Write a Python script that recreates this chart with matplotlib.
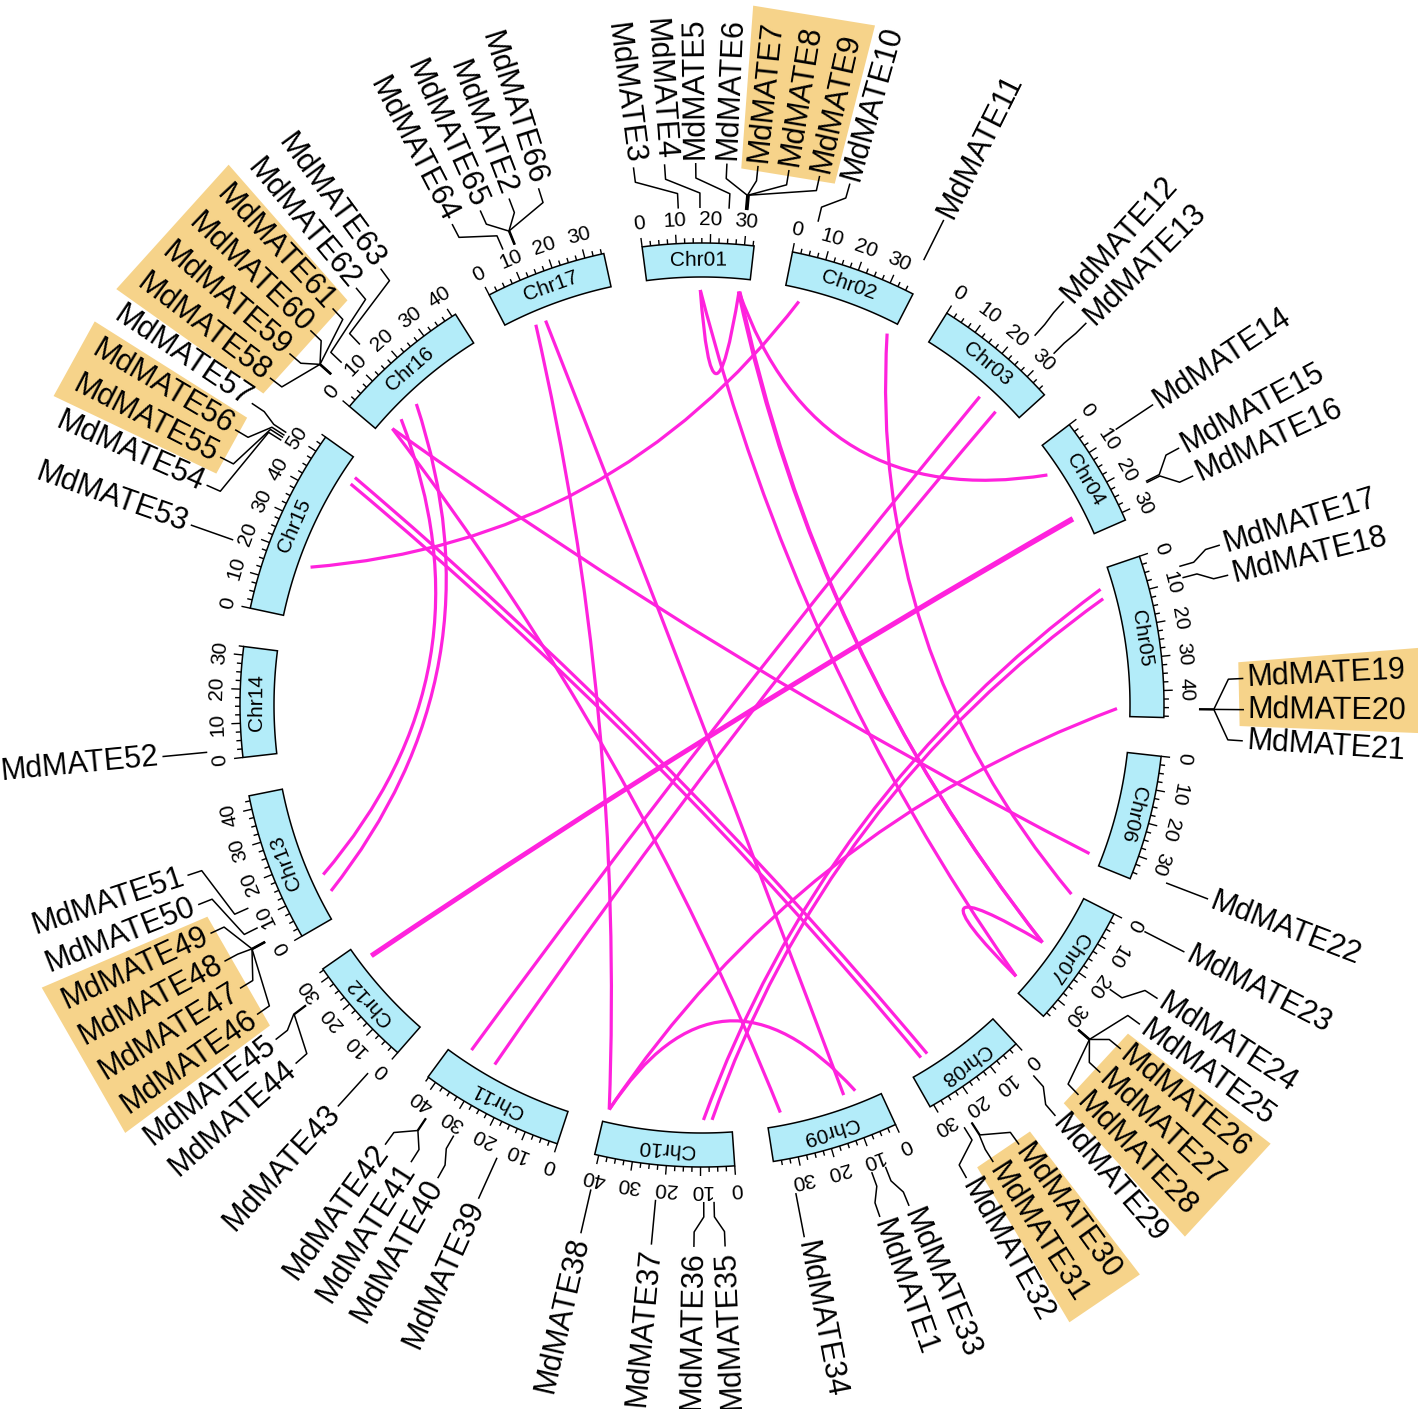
import numpy as np
import matplotlib
matplotlib.use("Agg")
import matplotlib.pyplot as plt
from matplotlib.path import Path
from matplotlib.patches import PathPatch, Polygon
from matplotlib.collections import LineCollection
from matplotlib.textpath import TextPath
from matplotlib.font_manager import FontProperties

plt.rcParams['font.family'] = ['Liberation Sans', 'DejaVu Sans']

# ---------------- data ----------------
chroms = ['Chr01', 'Chr02', 'Chr03', 'Chr04', 'Chr05', 'Chr06', 'Chr07', 'Chr08', 'Chr09',
          'Chr10', 'Chr11', 'Chr12', 'Chr13', 'Chr14', 'Chr15', 'Chr16', 'Chr17']
chrom_len = [32.8, 37.4, 37.3, 32.4, 47.9, 37.0, 36.4, 31.2, 37.4,
             41.2, 42.7, 32.9, 44.0, 32.5, 55.0, 41.2, 35.7]   # Mb

gene_names = ['MdMATE%d' % i for i in range(1, 67)]
gene_chrom = ['Chr09', 'Chr17', 'Chr01', 'Chr01', 'Chr01', 'Chr01', 'Chr01', 'Chr01', 'Chr01', 'Chr02',
              'Chr02', 'Chr03', 'Chr03', 'Chr04', 'Chr04', 'Chr04', 'Chr05', 'Chr05', 'Chr05', 'Chr05',
              'Chr05', 'Chr06', 'Chr07', 'Chr07', 'Chr07', 'Chr07', 'Chr07', 'Chr07', 'Chr08', 'Chr08',
              'Chr08', 'Chr08', 'Chr09', 'Chr09', 'Chr10', 'Chr10', 'Chr10', 'Chr10', 'Chr11', 'Chr11',
              'Chr11', 'Chr11', 'Chr12', 'Chr12', 'Chr12', 'Chr13', 'Chr13', 'Chr13', 'Chr13', 'Chr13',
              'Chr13', 'Chr14', 'Chr15', 'Chr15', 'Chr15', 'Chr15', 'Chr15', 'Chr16', 'Chr16', 'Chr16',
              'Chr16', 'Chr16', 'Chr16', 'Chr17', 'Chr17', 'Chr17']
gene_pos = [11.3, 12.45, 11.1, 17.0, 24.9, 29.4, 29.6, 29.8, 30.0, 5.2,
            35.8, 23.6, 30.7, 8.7, 25.0, 25.4, 6.1, 9.3, 45.3, 45.4,
            45.5, 34.4, 0.5, 18.8, 32.6, 32.7, 32.8, 32.9, 2.4, 23.4,
            23.6, 25.9, 7.3, 32.7, 6.3, 9.1, 22.2, 40.0, 14.4, 27.6,
            36.4, 36.6, 2.4, 27.3, 27.5, 3.5, 3.6, 3.7, 3.8, 8.0,
            13.9, 2.5, 17.2, 47.3, 48.2, 48.9, 49.8, 3.3, 3.4, 3.5,
            3.6, 7.7, 14.7, 9.0, 12.3, 12.6]

highlighted = ['MdMATE7', 'MdMATE8', 'MdMATE9', 'MdMATE19', 'MdMATE20',
               'MdMATE26', 'MdMATE27', 'MdMATE28', 'MdMATE30', 'MdMATE31',
               'MdMATE46', 'MdMATE47', 'MdMATE48', 'MdMATE49',
               'MdMATE55', 'MdMATE56', 'MdMATE58', 'MdMATE59', 'MdMATE60', 'MdMATE61']

# duplicated gene pairs (chromosome, Mb)
link_chr_a = ['Chr15', 'Chr01', 'Chr01', 'Chr02', 'Chr03', 'Chr03', 'Chr04', 'Chr04', 'Chr05', 'Chr05',
              'Chr05', 'Chr16', 'Chr16', 'Chr16', 'Chr17', 'Chr17', 'Chr16', 'Chr15', 'Chr15', 'Chr10',
              'Chr07', 'Chr01', 'Chr01', 'Chr01']
link_pos_a = [17.2, 17.0, 29.6, 35.8, 23.6, 30.7, 24.8, 25.6, 6.1, 9.3,
              45.4, 3.5, 14.7, 7.7, 9.0, 12.45, 3.5, 49.8, 47.3, 40.0,
              18.8, 17.0, 29.4, 29.9]
link_chr_b = ['Chr02', 'Chr01', 'Chr04', 'Chr07', 'Chr11', 'Chr11', 'Chr12', 'Chr12', 'Chr10', 'Chr10',
              'Chr10', 'Chr06', 'Chr13', 'Chr13', 'Chr10', 'Chr09', 'Chr09', 'Chr08', 'Chr08', 'Chr09',
              'Chr07', 'Chr07', 'Chr07', 'Chr07']
link_pos_b = [5.2, 29.6, 8.7, 0.5, 36.5, 27.6, 27.7, 27.1, 9.1, 6.3,
              40.0, 34.4, 8.0, 13.9, 40.0, 11.3, 32.7, 23.5, 25.9, 7.3,
              32.8, 32.8, 18.8, 18.8]

# ---------------- layout ----------------
W, H = 1418, 1409
CX, CY = 702, 704
DEG_PER_MB = 0.4245
GAP = (360 - sum(chrom_len) * DEG_PER_MB) / len(chroms)
START = -7.45
R_IN, R_OUT = 428, 462
R_LINK = 415
R_TICKLAB = 485
LEAD = [497, 512, 527, 542]
R_TEXT = 546
SEP = 3.3

BOX_C = '#b3ecf9'
LINK_C = '#ff22dd'
HL_C = '#f6d38a'

chr_start = {}
a = START
for c, L in zip(chroms, chrom_len):
    chr_start[c] = a
    a += L * DEG_PER_MB + GAP


def ang(c, p):
    return chr_start[c] + p * DEG_PER_MB


def pt(theta, r):
    t = np.radians(theta)
    return CX + r * np.sin(t), CY + r * np.cos(t)


fig = plt.figure(figsize=(W / 100, H / 100), dpi=100)
ax = fig.add_axes([0, 0, 1, 1])
ax.set_xlim(0, W)
ax.set_ylim(0, H)
ax.axis('off')

# links
for ca, pa, cb, pb in zip(link_chr_a, link_pos_a, link_chr_b, link_pos_b):
    p0 = np.array(pt(ang(ca, pa), R_LINK))
    p2 = np.array(pt(ang(cb, pb), R_LINK))
    cen = np.array([CX, CY])
    ctrl = cen + 0.6 * ((p0 + p2) / 2 - cen)
    path = Path([p0, ctrl, p2], [Path.MOVETO, Path.CURVE3, Path.CURVE3])
    ax.add_patch(PathPatch(path, fc='none', ec=LINK_C, lw=2.3, zorder=1))

# chromosome boxes, ticks, labels
ticks = []
for c, L in zip(chroms, chrom_len):
    s = chr_start[c]
    e = s + L * DEG_PER_MB
    th = np.linspace(s, e, 60)
    outer = [pt(t, R_OUT) for t in th]
    inner = [pt(t, R_IN) for t in th[::-1]]
    ax.add_patch(Polygon(outer + inner, closed=True, fc=BOX_C, ec='black', lw=1.1, zorder=2))
    mid = (s + e) / 2
    x, y = pt(mid, (R_IN + R_OUT) / 2)
    ax.text(x, y, c, rotation=-mid, rotation_mode='anchor', ha='center', va='center',
            fontsize=15, zorder=4)
    for v in np.arange(0, L + 1e-6, 2.5):
        t = s + v * DEG_PER_MB
        major = abs(v / 10 - round(v / 10)) < 1e-6
        ticks.append([pt(t, R_OUT), pt(t, R_OUT + (9 if major else 5))])
        if major:
            x, y = pt(t, R_TICKLAB)
            ax.text(x, y, '%d' % v, rotation=-t, rotation_mode='anchor', ha='center',
                    va='center', fontsize=15, zorder=4)
ax.add_collection(LineCollection(ticks, colors='black', linewidths=1.0, zorder=3))

# gene labels: spread along the circle
g_ang = np.array([ang(c, p) for c, p in zip(gene_chrom, gene_pos)])
g_ang = (g_ang + 90) % 360 - 90
order = np.argsort(g_ang, kind='stable')
sa = g_ang[order]
clusters = [[i] for i in range(len(sa))]


def place(cl):
    n = len(cl)
    return sa[cl].mean() + (np.arange(n) - (n - 1) / 2) * SEP


changed = True
while changed:
    changed = False
    pos = [place(cl) for cl in clusters]
    for k in range(len(clusters) - 1):
        if pos[k + 1][0] - pos[k][-1] < SEP - 1e-9:
            clusters[k] = clusters[k] + clusters[k + 1]
            del clusters[k + 1]
            changed = True
            break
lab_sorted = np.concatenate([place(cl) for cl in clusters])
lab_ang = np.empty_like(g_ang)
lab_ang[order] = lab_sorted

leaders = []
FS = 22
fp = FontProperties(family=['Liberation Sans', 'DejaVu Sans'])
text_w = {}
for i, name in enumerate(gene_names):
    ga, la = g_ang[i], lab_ang[i]
    leaders.append([pt(ga, LEAD[0]), pt(ga, LEAD[1]), pt(la, LEAD[2]), pt(la, LEAD[3])])
    x, y = pt(la, R_TEXT)
    if 0 <= ga % 360 < 175:
        rot, ha = 90 - la, 'left'
    else:
        rot, ha = 270 - la, 'right'
    ax.text(x, y, name, rotation=rot, rotation_mode='anchor', ha=ha, va='center',
            fontsize=FS, zorder=4)
    text_w[name] = TextPath((0, 0), name, size=FS * 100 / 72, prop=fp).get_extents().width
ax.add_collection(LineCollection(leaders, colors='black', linewidths=1.1, zorder=3))

# highlight boxes behind grouped labels
groups, cur = [], []
for i in order:
    if gene_names[i] in highlighted:
        cur.append(i)
    else:
        if cur:
            groups.append(cur)
        cur = []
if cur:
    groups.append(cur)
for grp in groups:
    a0 = lab_ang[grp].min() - 1.75
    a1 = lab_ang[grp].max() + 1.75
    r0 = R_TEXT - 8
    r1 = R_TEXT + max(text_w[gene_names[i]] for i in grp) + 17
    ax.add_patch(Polygon([pt(a0, r0), pt(a1, r0), pt(a1, r1), pt(a0, r1)], closed=True,
                         fc=HL_C, ec='none', zorder=2.5))

fig.savefig('out.png', dpi=100)
